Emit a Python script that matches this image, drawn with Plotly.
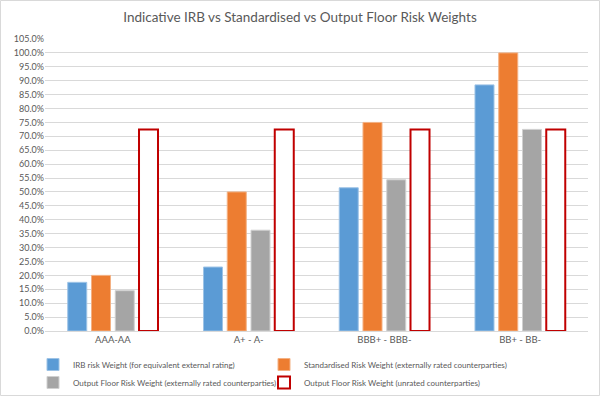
import plotly.graph_objects as go

categories = ["AAA-AA", "A+ - A-", "BBB+ - BBB-", "BB+ - BB-"]
irb = [0.175, 0.23, 0.515, 0.885]
standardised = [0.20, 0.50, 0.75, 1.00]
floor_rated = [0.145, 0.3625, 0.54375, 0.725]
floor_unrated = [0.725, 0.725, 0.725, 0.725]
names = [
    "IRB risk Weight (for equivalent external rating)",
    "Standardised Risk Weight (externally rated counterparties)",
    "Output Floor Risk Weight (externally rated counterparties)",
    "Output Floor Risk Weight (unrated counterparties)",
]

W, H = 600, 396
L, R, T, B = 45, 12, 39, 65
pw, ph = W - L - R, H - T - B

fig = go.Figure()
fig.add_bar(x=categories, y=irb, name=names[0], legend="legend", showlegend=True,
            marker=dict(color="#5B9BD5", line=dict(color="#9DC3E6", width=1)))
fig.add_bar(x=categories, y=standardised, name=names[1], legend="legend2", showlegend=True,
            marker=dict(color="#ED7D31", line=dict(color="#F4B183", width=1)))
fig.add_bar(x=categories, y=floor_rated, name=names[2], legend="legend3", showlegend=True,
            marker=dict(color="#A5A5A5", line=dict(color="#D0D0D0", width=1)))
fig.add_bar(x=categories, y=floor_unrated, name=names[3], legend="legend4", showlegend=True,
            marker=dict(color="#FFFFFF", line=dict(color="#C00000", width=2)))

legend_common = dict(orientation="h", xanchor="left", yanchor="top", visible=True,
                     itemwidth=30, font=dict(size=8, color="#595959"),
                     tracegroupgap=0, itemclick=False, itemdoubleclick=False,
                     bgcolor="rgba(0,0,0,0)")
col1_x = (33 - L) / pw
col2_x = (264 - L) / pw
row1_y = -(350 - (H - B)) / ph
row2_y = -(368 - (H - B)) / ph

fig.update_layout(
    width=W, height=H,
    showlegend=True,
    margin=dict(l=L, r=R, t=T, b=B, autoexpand=False),
    paper_bgcolor="white", plot_bgcolor="white",
    font=dict(family="Lato, Open Sans, sans-serif", color="#595959", size=10),
    title=dict(text="Indicative IRB vs Standardised vs Output Floor Risk Weights",
               x=0.5, xanchor="center", y=1 - 17 / H, yanchor="middle",
               font=dict(size=13.5, color="#595959")),
    barmode="group", bargap=0.3, bargroupgap=0.2,
    xaxis=dict(showgrid=False, showline=True, linecolor="#D9D9D9", ticks="",
               tickfont=dict(size=9.5, color="#595959")),
    yaxis=dict(range=[0, 1.05], dtick=0.05, tickformat=".1%", showgrid=True,
               gridcolor="#D9D9D9", zeroline=False, ticks="",
               tickfont=dict(size=9, color="#595959")),
    legend=dict(legend_common, x=col1_x, y=row1_y),
    legend2=dict(legend_common, x=col2_x, y=row1_y),
    legend3=dict(legend_common, x=col1_x, y=row2_y),
    legend4=dict(legend_common, x=col2_x, y=row2_y),
    shapes=[dict(type="rect", xref="paper", yref="paper",
                 x0=-(L - 0.5) / pw, x1=1 + (R - 0.5) / pw,
                 y0=-(B - 0.5) / ph, y1=1 + (T - 0.5) / ph,
                 line=dict(color="#D9D9D9", width=1))],
)

fig.write_html("out.html", config={"displayModeBar": False},
               post_script="document.body.style.margin='0';")
